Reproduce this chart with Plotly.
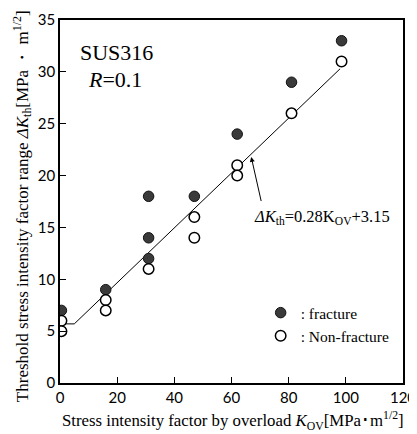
import plotly.graph_objects as go

# Data
frac_x = [0.5, 16, 31, 31, 31, 47, 62, 81, 98.5]
frac_y = [7, 9, 18, 14, 12, 18, 24, 29, 33]
nonfrac_x = [0.5, 0.5, 16, 16, 31, 47, 47, 62, 62, 81, 98.5]
nonfrac_y = [6, 5, 8, 7, 11, 16, 14, 21, 20, 26, 31]
fit_x = [0, 5, 98]
fit_y = [5.7, 5.7, 30.3]
x_ticks = [0, 20, 40, 60, 80, 100, 120]
y_ticks = [0, 5, 10, 15, 20, 25, 30, 35]

serif = "Liberation Serif"
sans = "Lato"

fig = go.Figure()
fig.add_trace(go.Scatter(x=fit_x, y=fit_y, mode="lines",
                         line=dict(color="black", width=1), showlegend=False,
                         hoverinfo="skip"))
fig.add_trace(go.Scatter(x=frac_x, y=frac_y, mode="markers", name=": fracture",
                         marker=dict(size=10.5, color="#3a3a3a",
                                     line=dict(color="#111111", width=1))))
fig.add_trace(go.Scatter(x=nonfrac_x, y=nonfrac_y, mode="markers", name=": Non-fracture",
                         marker=dict(size=10.5, color="white",
                                     line=dict(color="black", width=1.5))))

fig.add_annotation(x=6.3, y=31.9, xref="x", yref="y", text="SUS316", showarrow=False,
                   xanchor="left", yanchor="middle",
                   font=dict(family=serif, size=22, color="black"))
fig.add_annotation(x=19.2, y=29.3, xref="x", yref="y", text="<i>R</i>=0.1", showarrow=False,
                   xanchor="center", yanchor="middle",
                   font=dict(family=serif, size=22, color="black"))
fig.add_annotation(x=66.9, y=21.8, ax=70.5, ay=17.4, xref="x", yref="y", axref="x", ayref="y",
                   text="", showarrow=True, arrowhead=2, arrowsize=1, arrowwidth=1,
                   arrowcolor="black")
fig.add_annotation(x=67.2, y=16.0, xref="x", yref="y",
                   text="<i>ΔK</i><sub>th</sub>=0.28K<sub>OV</sub>+3.15", showarrow=False,
                   xanchor="left", yanchor="middle",
                   font=dict(family=serif, size=16.5, color="black"))

# axis titles
fig.add_annotation(x=0.504, y=-0.105, xref="paper", yref="paper",
                   text="Stress intensity factor by overload <i>K</i><sub>OV</sub>[MPa･m<sup>1/2</sup>]",
                   showarrow=False, xanchor="center", yanchor="middle",
                   font=dict(family=serif, size=16.8, color="black"))
fig.add_annotation(x=-0.111, y=0.487, xref="paper", yref="paper", textangle=-90,
                   text="Threshold stress intensity factor range <i>ΔK</i><sub>th</sub>[MPa ・ m<sup>1/2</sup>]",
                   showarrow=False, xanchor="center", yanchor="middle",
                   font=dict(family=serif, size=17, color="black"))

fig.update_layout(
    width=409, height=426,
    margin=dict(l=52, r=14, t=12, b=51),
    paper_bgcolor="white", plot_bgcolor="white",
    showlegend=True,
    legend=dict(x=0.585, y=0.161, xanchor="left", yanchor="middle",
                bgcolor="rgba(0,0,0,0)", font=dict(family=serif, size=15.5, color="black"),
                itemwidth=30, tracegroupgap=0),
)
fig.update_xaxes(range=[0, 120], tickvals=x_ticks, ticks="inside", ticklen=6,
                 tickcolor="black", showline=True, linecolor="black", linewidth=1.5,
                 mirror=True, showgrid=False, zeroline=False, automargin=False,
                 tickfont=dict(family=sans, size=15, color="black"))
fig.update_yaxes(range=[0, 35], tickvals=y_ticks, ticks="inside", ticklen=6,
                 tickcolor="black", showline=True, linecolor="black", linewidth=1.5,
                 mirror=True, showgrid=False, zeroline=False, automargin=False,
                 tickfont=dict(family=sans, size=15, color="black"))

fig.write_html("out.html")
